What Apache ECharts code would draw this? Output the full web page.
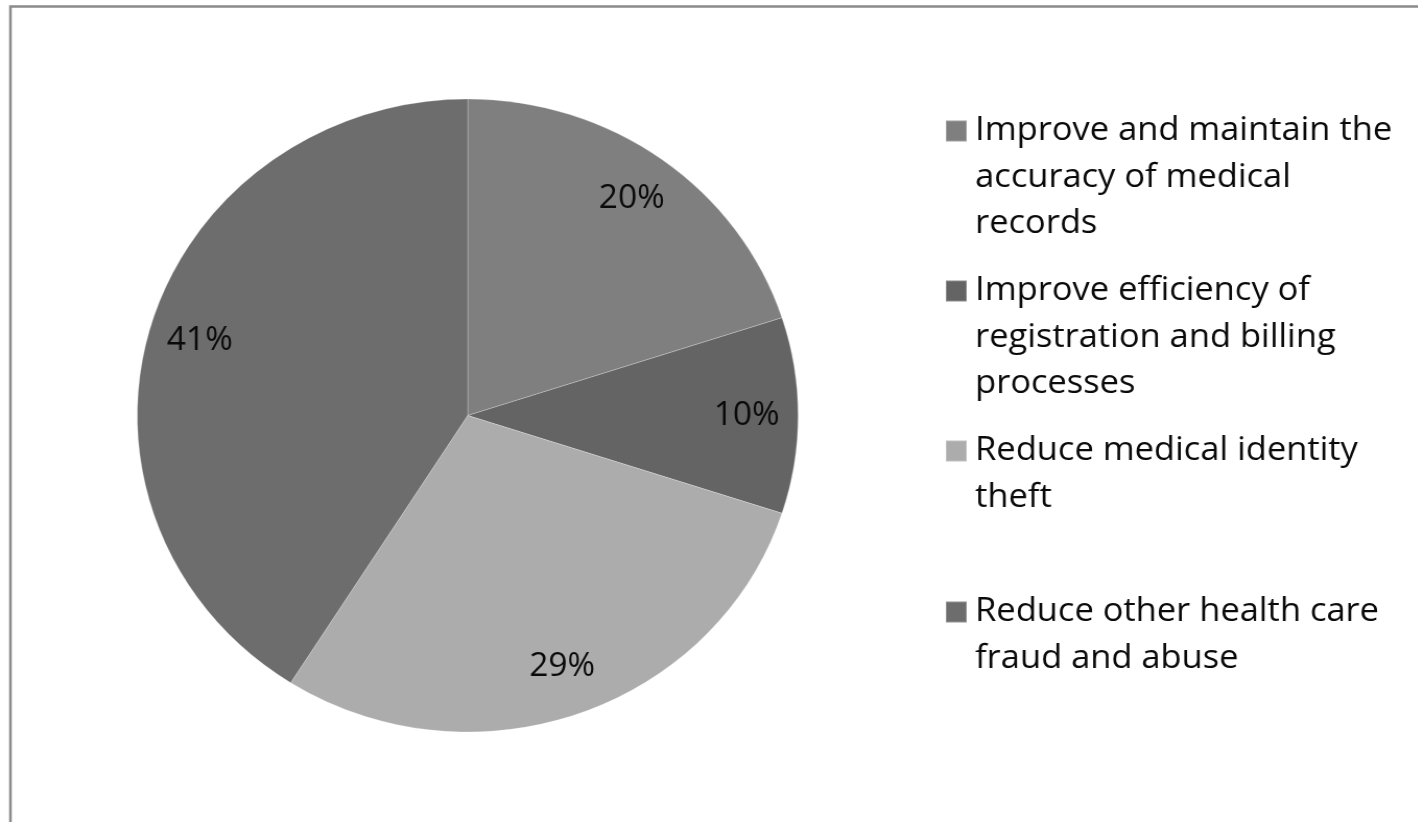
<!DOCTYPE html>
<html>
<head>
<meta charset="utf-8">
<title>Goals</title>
<script src="https://cdn.jsdelivr.net/npm/echarts@6/dist/echarts.min.js"></script>
<style>
  html, body { margin: 0; padding: 0; background: #ffffff; overflow: hidden; }
  /* the chart is drawn slightly narrow and widened, giving the oval pie */
  #chart { width: 1358px; height: 822px; transform: scaleX(1.044); transform-origin: 0 0; }
</style>
</head>
<body>
<div id="chart"></div>
<script>
// Categories, shares (percent) and slice colours
const categories = [
  'Improve and maintain the accuracy of medical records',
  'Improve efficiency of registration and billing processes',
  'Reduce medical identity theft',
  'Reduce other health care fraud and abuse'
];
const shares = [20, 10, 29, 41];
const sliceColors = ['#7f7f7f', '#646464', '#acacac', '#6d6d6d'];

// Legend text broken into display lines
const legendLines = [
  ['Improve and maintain the', 'accuracy of medical', 'records'],
  ['Improve efficiency of', 'registration and billing', 'processes'],
  ['Reduce medical identity', 'theft'],
  ['Reduce other health care', 'fraud and abuse']
];

const FONT = '"Open Sans", "Noto Sans", sans-serif';
const LINE_H = 46.5;
const CENTER = [448, 415.5];
const RADIUS = 316.5;
const legendIconCenters = [131, 291, 451, 612];

const pieData = categories.map((name, i) => ({
  name: name,
  value: shares[i],
  itemStyle: { color: sliceColors[i] }
}));

// One legend block per category. The text block is centred on the icon,
// so blank leading lines push the first real line level with the icon.
const legends = categories.map((name, i) => {
  const n = legendLines[i].length;
  const blank = new Array(n - 1).fill('\u00a0');
  const blockH = (2 * n - 1) * LINE_H;
  return {
    data: [name],
    orient: 'vertical',
    left: 905,
    top: legendIconCenters[i] - blockH / 2,
    padding: 0,
    itemWidth: 20,
    itemHeight: 21,
    icon: 'rect',
    selectedMode: false,
    formatter: () => blank.concat(legendLines[i]).join('\n'),
    textStyle: {
      fontFamily: FONT,
      fontSize: 33,
      lineHeight: LINE_H,
      color: '#0a0a0a',
      padding: [0, 0, 0, 3]
    }
  };
});

const chart = echarts.init(document.getElementById('chart'), null, { renderer: 'canvas' });
chart.setOption({
  backgroundColor: '#ffffff',
  animation: false,
  graphic: [{
    type: 'rect',
    silent: true,
    shape: { x: 10, y: 6.5, width: 1600, height: 1000 },
    style: { fill: 'none', stroke: '#8a8a8a', lineWidth: 2.5 }
  }],
  legend: legends,
  series: [
    {
      type: 'pie',
      center: CENTER,
      radius: RADIUS,
      startAngle: 90,
      clockwise: true,
      silent: true,
      label: { show: false },
      labelLine: { show: false },
      itemStyle: { borderColor: 'rgba(255,255,255,0.25)', borderWidth: 1 },
      data: pieData
    },
    {
      // transparent ring that carries the percentage labels near the rim
      type: 'pie',
      center: CENTER,
      radius: [RADIUS * 0.67, RADIUS],
      startAngle: 90,
      clockwise: true,
      silent: true,
      itemStyle: { color: 'rgba(0,0,0,0)', borderWidth: 0 },
      label: {
        show: true,
        position: 'inside',
        formatter: '{c}%',
        fontFamily: FONT,
        fontSize: 32,
        color: '#0a0a0a'
      },
      labelLine: { show: false },
      data: categories.map((name, i) => ({ name: name, value: shares[i] }))
    }
  ]
});
</script>
</body>
</html>
